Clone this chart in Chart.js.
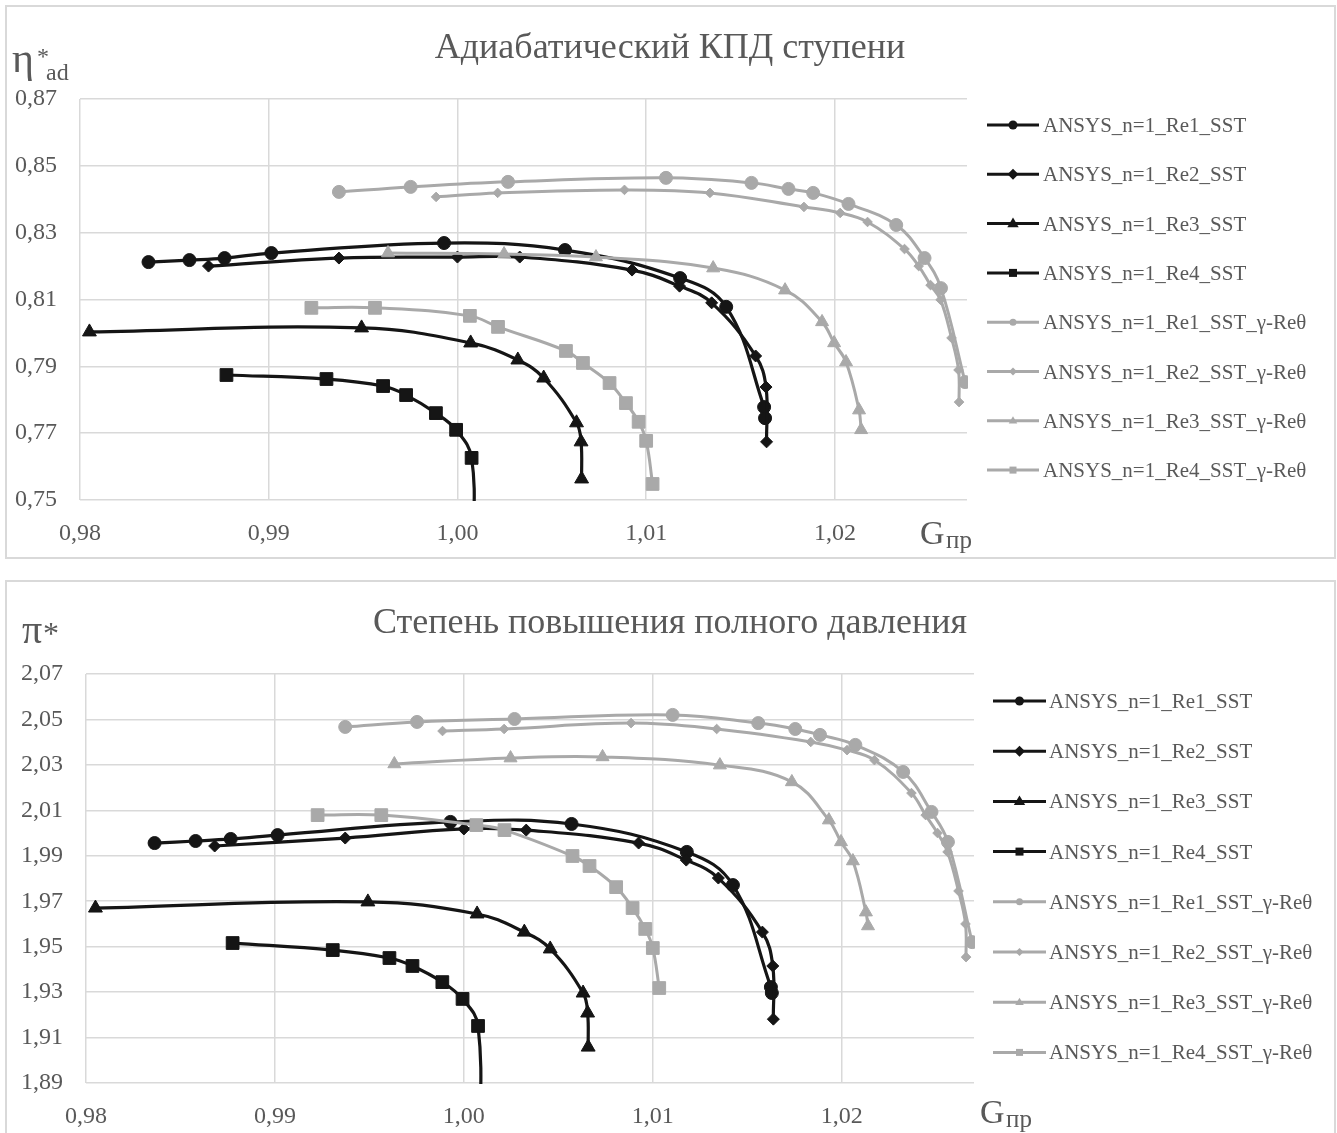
<!DOCTYPE html>
<html><head><meta charset="utf-8">
<script src="https://cdn.jsdelivr.net/npm/chart.js@4.4.1/dist/chart.umd.min.js"></script>
<style>
html,body{margin:0;padding:0;background:#fff;}
#wrap{position:relative;width:1337px;height:1133px;overflow:hidden;background:#fff;}
canvas{position:absolute;left:0;}
#c1{top:0;} #c2{top:580px;}
.box{position:absolute;border:2px solid #d9d9d9;box-sizing:border-box;}
svg{position:absolute;left:0;top:0;}
</style></head>
<body><div id="wrap">
<div class="box" style="left:5px;top:5px;width:1331px;height:554px"></div>
<div class="box" style="left:5px;top:580px;width:1331px;height:560px"></div>
<canvas id="c1" width="1337" height="560"></canvas>
<canvas id="c2" width="1337" height="553"></canvas>
<svg id="ov" width="1337" height="1133" xmlns="http://www.w3.org/2000/svg"></svg>
</div>
<script>
// ---------- DATA ----------
const seriesNames = [
  'ANSYS_n=1_Re1_SST','ANSYS_n=1_Re2_SST','ANSYS_n=1_Re3_SST','ANSYS_n=1_Re4_SST',
  'ANSYS_n=1_Re1_SST_γ-Reθ','ANSYS_n=1_Re2_SST_γ-Reθ','ANSYS_n=1_Re3_SST_γ-Reθ','ANSYS_n=1_Re4_SST_γ-Reθ'
];
const chartTitles = ['Адиабатический КПД ступени','Степень повышения полного давления'];

const xTicks = [0.98, 0.99, 1.00, 1.01, 1.02];
const etaTicks = [0.75, 0.77, 0.79, 0.81, 0.83, 0.85, 0.87];
const piTicks = [1.89, 1.91, 1.93, 1.95, 1.97, 1.99, 2.01, 2.03, 2.05, 2.07];

// SST
const G_re1 = [0.98363, 0.9858, 0.98766, 0.99014, 0.99929, 1.0057, 1.0118, 1.01424, 1.01625, 1.0163];
const eta_re1 = [0.8212, 0.8218, 0.8224, 0.8239, 0.8269, 0.8248, 0.8164, 0.8078, 0.7778, 0.7745];
const pi_re1 = [1.9956, 1.9965, 1.9974, 1.9991, 2.0049, 2.0040, 1.9917, 1.9771, 1.9322, 1.9296];

const G_re2 = [0.98681, 0.99372, 1.0000, 1.0033, 1.00925, 1.01177, 1.01347, 1.0158, 1.01635, 1.01638];
const eta_re2 = [0.8200, 0.8224, 0.8227, 0.8227, 0.8188, 0.8140, 0.8090, 0.7931, 0.7838, 0.7674];
const pi_re2 = [1.9943, 1.9978, 2.0018, 2.0013, 1.9956, 1.9881, 1.9802, 1.9564, 1.9415, 1.9181];

const G_re3 = [0.9805, 0.99492, 1.0007, 1.0032, 1.00457, 1.00631, 1.00655, 1.00658];
const eta_re3 = [0.8003, 0.8015, 0.7970, 0.7919, 0.7865, 0.7731, 0.7674, 0.7563];
const pi_re3 = [1.9670, 1.9697, 1.9644, 1.9564, 1.9490, 1.9296, 1.9208, 1.9058];

const G_re4 = [0.98776, 0.99306, 0.99606, 0.99728, 0.99886, 0.99993, 1.00075, 1.00085];
const eta_re4 = [0.7874, 0.7862, 0.7841, 0.7814, 0.7760, 0.7710, 0.7626, 0.735];
const pi_re4 = [1.9516, 1.9485, 1.9450, 1.9415, 1.9344, 1.9270, 1.9151, 1.86];

// SST gamma-Re_theta
const G_re1g = [0.99372, 0.99752, 1.00268, 1.01105, 1.01558, 1.01754, 1.01885, 1.02072, 1.02325, 1.02475, 1.02562, 1.0269];
const eta_re1g = [0.8422, 0.8437, 0.8452, 0.8464, 0.8449, 0.8431, 0.8419, 0.8386, 0.8323, 0.8224, 0.8134, 0.7853];
const pi_re1g = [2.0467, 2.0489, 2.0502, 2.0520, 2.0484, 2.0458, 2.0432, 2.0388, 2.0269, 2.0093, 1.9961, 1.9520];

const G_re2g = [0.99887, 1.00213, 1.00885, 1.01338, 1.01836, 1.02028, 1.02173, 1.02369, 1.02444, 1.02507, 1.0256, 1.02618, 1.02655, 1.02658];
const eta_re2g = [0.8407, 0.8419, 0.8428, 0.8419, 0.8377, 0.8359, 0.8332, 0.8251, 0.8200, 0.8143, 0.8099, 0.7985, 0.7889, 0.7793];
const pi_re2g = [2.0449, 2.0458, 2.0484, 2.0458, 2.0401, 2.0365, 2.0321, 2.0176, 2.0079, 2.0000, 1.9917, 1.9745, 1.9600, 1.9454];

const G_re3g = [0.99632, 1.00247, 1.00734, 1.01355, 1.01736, 1.01932, 1.01996, 1.02059, 1.02128, 1.02139];
const eta_re3g = [0.8239, 0.8236, 0.8227, 0.8194, 0.8128, 0.8033, 0.7970, 0.7913, 0.7769, 0.7710];
const pi_re3g = [2.0304, 2.0330, 2.0335, 2.0299, 2.0225, 2.0057, 1.9961, 1.9877, 1.9652, 1.9591];

const G_re4g = [0.99226, 0.99563, 1.00066, 1.00215, 1.00575, 1.00665, 1.00806, 1.00893, 1.0096, 1.01, 1.01034];
const eta_re4g = [0.8075, 0.8075, 0.8051, 0.8018, 0.7946, 0.7910, 0.7850, 0.7790, 0.7734, 0.7677, 0.7548];
const pi_re4g = [2.0079, 2.0079, 2.0035, 2.0013, 1.9899, 1.9855, 1.9762, 1.9670, 1.9578, 1.9494, 1.9318];

const G_all = [G_re1, G_re2, G_re3, G_re4, G_re1g, G_re2g, G_re3g, G_re4g];
const eta_all = [eta_re1, eta_re2, eta_re3, eta_re4, eta_re1g, eta_re2g, eta_re3g, eta_re4g];
const pi_all = [pi_re1, pi_re2, pi_re3, pi_re4, pi_re1g, pi_re2g, pi_re3g, pi_re4g];

// ---------- STYLE ----------
const BLACK = '#151515', GRAY = '#a9a9a9', TXT = '#595959', GRID = '#d9d9d9';
const FONT = "'Liberation Serif','Times New Roman',serif";
const styles = [
  {color: BLACK, shape: 'circle', r: 6.5, lr: 4.5, w: 3.2},
  {color: BLACK, shape: 'rectRot', r: 6, lr: 5.5, w: 3.2},
  {color: BLACK, shape: 'triangle', r: 8, lr: 6, w: 3.2},
  {color: BLACK, shape: 'rect', r: 9, lr: 4, w: 3.2},
  {color: GRAY, shape: 'circle', r: 6.5, lr: 3.5, w: 3},
  {color: GRAY, shape: 'rectRot', r: 4.8, lr: 4, w: 3},
  {color: GRAY, shape: 'triangle', r: 7.5, lr: 4.5, w: 3},
  {color: GRAY, shape: 'rect', r: 9, lr: 3.5, w: 3}
];

function makeDatasets(Ys) {
  return G_all.map((g, i) => {
    const st = styles[i];
    return {
      label: seriesNames[i],
      data: g.map((x, j) => ({x: x, y: Ys[i][j]})),
      showLine: true,
      tension: 0.4,
      borderColor: st.color,
      borderWidth: st.w,
      pointStyle: st.shape,
      pointRadius: st.r,
      pointBackgroundColor: st.color,
      pointBorderColor: st.color,
      pointBorderWidth: 1,
      order: G_all.length - i,
      clip: 1
    };
  });
}

function fmt(v) { return Number(v).toFixed(2).replace('.', ','); }

function makeChart(id, Ys, yTicks, pad, yWidth) {
  return new Chart(document.getElementById(id), {
    type: 'scatter',
    data: {datasets: makeDatasets(Ys)},
    options: {
      responsive: false,
      animation: false,
      devicePixelRatio: 1,
      layout: {padding: pad},
      plugins: {legend: {display: false}, tooltip: {enabled: false}, title: {display: false}},
      scales: {
        x: {
          type: 'linear', position: 'bottom', min: 0.98, max: 1.027,
          afterBuildTicks: s => { s.ticks = xTicks.map(v => ({value: v})); },
          afterFit: s => { s.height = 45; },
          grid: {color: GRID, lineWidth: 1.5, drawTicks: false},
          border: {display: false},
          ticks: {callback: fmt, color: TXT, font: {family: FONT, size: 24}, padding: 19, maxRotation: 0, autoSkip: false}
        },
        y: {
          type: 'linear', position: 'left', min: yTicks[0], max: yTicks[yTicks.length - 1],
          afterBuildTicks: s => { s.ticks = yTicks.map(v => ({value: v})); },
          afterFit: s => { s.width = yWidth; },
          grid: {color: GRID, lineWidth: 1.5, drawTicks: false},
          border: {display: false},
          ticks: {callback: fmt, color: TXT, font: {family: FONT, size: 24}, padding: 23, autoSkip: false}
        }
      }
    }
  });
}

makeChart('c1', eta_all, etaTicks, {left: 5, right: 370, top: 99, bottom: 15}, 75);
makeChart('c2', pi_all, piTicks, {left: 5, right: 363, top: 94, bottom: 5}, 81);

// ---------- OVERLAY TEXT & LEGENDS ----------
const NS = 'http://www.w3.org/2000/svg';
const ov = document.getElementById('ov');
function el(tag, attrs, text) {
  const e = document.createElementNS(NS, tag);
  for (const k in attrs) e.setAttribute(k, attrs[k]);
  if (text !== undefined) e.textContent = text;
  ov.appendChild(e);
  return e;
}
function txt(x, y, s, size, anchor, style) {
  return el('text', {x: x, y: y, 'font-family': FONT, 'font-size': size, fill: TXT,
    'text-anchor': anchor || 'start', 'font-style': style || 'normal'}, s);
}
function marker(cx, cy, shape, r, color) {
  if (shape === 'circle') el('circle', {cx: cx, cy: cy, r: r, fill: color});
  else if (shape === 'rectRot') el('polygon', {points: `${cx},${cy-r} ${cx+r},${cy} ${cx},${cy+r} ${cx-r},${cy}`, fill: color});
  else if (shape === 'triangle') el('polygon', {points: `${cx},${cy-r} ${cx+r*0.95},${cy+r*0.6} ${cx-r*0.95},${cy+r*0.6}`, fill: color});
  else el('rect', {x: cx - r, y: cy - r, width: 2 * r, height: 2 * r, fill: color});
}
function legend(x1, x2, tx, y0, step) {
  seriesNames.forEach((name, i) => {
    const st = styles[i];
    const y = y0 + i * step;
    el('line', {x1: x1, y1: y, x2: x2, y2: y, stroke: st.color, 'stroke-width': 3});
    marker((x1 + x2) / 2, y, st.shape, st.lr, st.color);
    txt(tx, y + 7, name, 21);
  });
}

// titles
txt(670, 58, chartTitles[0], 36, 'middle');
txt(670, 633, chartTitles[1], 36, 'middle');
// axis titles top
txt(12, 72, 'η', 42);
txt(37, 64, '*', 24);
txt(46, 80, 'ad', 24);
txt(920, 544, 'G', 34);
txt(946, 548, 'пр', 25);
// axis titles bottom
txt(22, 643, 'π', 40);
txt(43, 644, '*', 32);
txt(980, 1123, 'G', 34);
txt(1006, 1127, 'пр', 25);
// legends
legend(987, 1039, 1043, 125, 49.3);
legend(993, 1046, 1049, 701, 50.2);
</script>
</body></html>
